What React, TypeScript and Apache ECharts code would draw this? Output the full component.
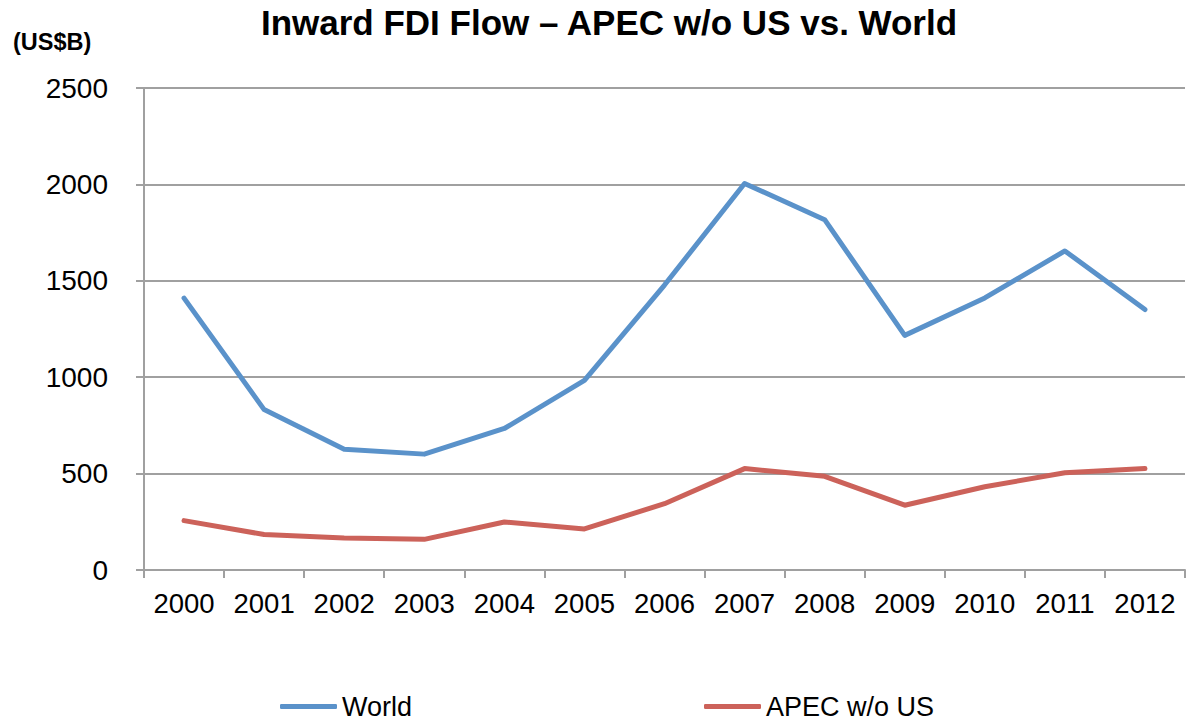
import React, { useEffect, useRef } from "react";
import * as echarts from "echarts";

const years = ["2000", "2001", "2002", "2003", "2004", "2005", "2006", "2007", "2008", "2009", "2010", "2011", "2012"];
const world = [1410, 832, 626, 601, 734, 983, 1478, 2005, 1817, 1217, 1411, 1655, 1351];
const apec = [256, 184, 166, 159, 249, 213, 344, 526, 486, 336, 432, 504, 526];
const yTicks = [0, 500, 1000, 1500, 2000, 2500];

const FONT = "'Liberation Sans', Arial, sans-serif";

export default function App() {
  const ref = useRef<HTMLDivElement>(null);
  useEffect(() => {
    if (!ref.current) return;
    const chart = echarts.init(ref.current, null, { renderer: "svg" });
    const legendBase = {
      top: 688,
      icon: "roundRect",
      itemWidth: 57,
      itemHeight: 5,
      itemGap: 5,
      textStyle: { fontFamily: FONT, fontSize: 27, color: "#000" },
    };
    chart.setOption({
      animation: false,
      backgroundColor: "#ffffff",
      title: [
        {
          text: "Inward FDI Flow – APEC w/o US vs. World",
          left: 604,
          top: 0,
          textAlign: "center",
          textStyle: { fontFamily: FONT, fontWeight: "bold", fontSize: 35, color: "#000" },
        },
        {
          text: "(US$B)",
          left: 8,
          top: 25,
          textStyle: { fontFamily: FONT, fontWeight: "bold", fontSize: 23.5, color: "#000" },
        },
      ],
      legend: [
        { ...legendBase, data: ["World"], left: 275 },
        { ...legendBase, data: ["APEC w/o US"], left: 699 },
      ],
      grid: { left: 144, right: 11, top: 88, bottom: 155, containLabel: false },
      xAxis: {
        type: "category",
        data: years,
        boundaryGap: true,
        axisLine: { lineStyle: { color: "#a0a0a0", width: 2 } },
        axisTick: { show: true, interval: 0, length: 8, lineStyle: { color: "#a0a0a0", width: 2 } },
        axisLabel: { interval: 0, fontFamily: FONT, fontSize: 27.5, color: "#000", margin: 19 },
      },
      yAxis: {
        type: "value",
        min: yTicks[0],
        max: yTicks[yTicks.length - 1],
        interval: 500,
        axisLine: { show: true, lineStyle: { color: "#a0a0a0", width: 2 } },
        axisTick: { show: true, length: 8, lineStyle: { color: "#a0a0a0", width: 2 } },
        splitLine: { show: true, lineStyle: { color: "#a0a0a0", width: 2 } },
        axisLabel: {
          fontFamily: FONT,
          fontSize: 28,
          color: "#000",
          margin: 36,
          formatter: (v: number) => String(v),
        },
      },
      series: [
        {
          name: "World",
          type: "line",
          data: world,
          symbol: "none",
          lineStyle: { color: "#5a92ca", width: 5, cap: "round", join: "round" },
          itemStyle: { color: "#5a92ca" },
        },
        {
          name: "APEC w/o US",
          type: "line",
          data: apec,
          symbol: "none",
          lineStyle: { color: "#cc625a", width: 5, cap: "round", join: "round" },
          itemStyle: { color: "#cc625a" },
        },
      ],
    });
    return () => chart.dispose();
  }, []);
  return <div ref={ref} style={{ position: "fixed", left: 0, top: 0, width: 1196, height: 725 }} />;
}
